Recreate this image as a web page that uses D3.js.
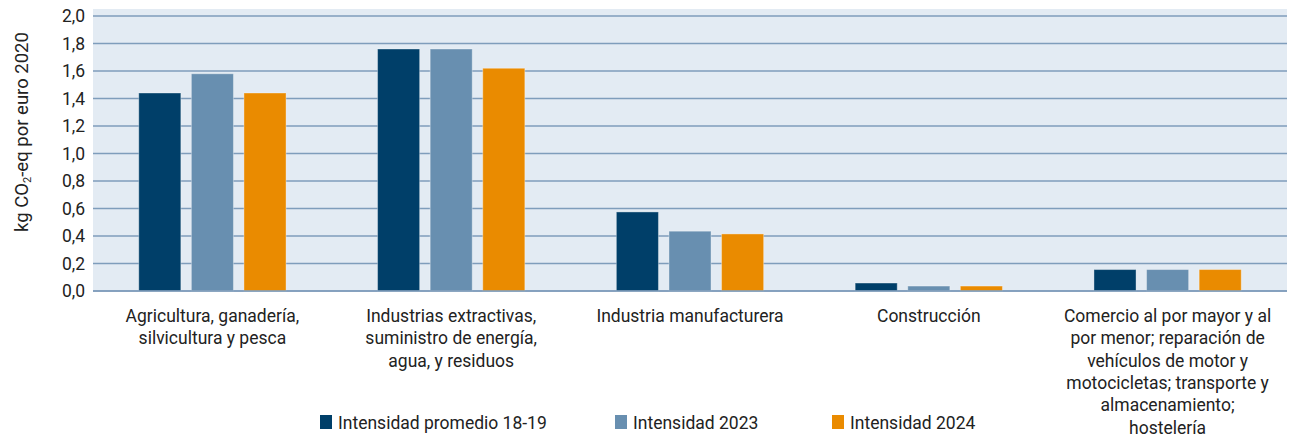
<!DOCTYPE html>
<html>
<head>
<meta charset="utf-8">
<script src="https://cdn.jsdelivr.net/npm/d3@7"></script>
<style>
  body { margin: 0; background: #fff; }
  svg text { font-family: Roboto, "Noto Sans", sans-serif; fill: #222; }
</style>
</head>
<body>
<svg id="chart" width="1289" height="440"></svg>
<script>
// categories, each already split into its printed lines
var categories = [
  ['Agricultura, ganadería,', 'silvicultura y pesca'],
  ['Industrias extractivas,', 'suministro de energía,', 'agua, y residuos'],
  ['Industria manufacturera'],
  ['Construcción'],
  ['Comercio al por mayor y al', 'por menor; reparación de', 'vehículos de motor y', 'motocicletas; transporte y', 'almacenamiento;', 'hostelería']
];
var seriesNames = ['Intensidad promedio 18-19', 'Intensidad 2023', 'Intensidad 2024'];
var promedio1819 = [1.44, 1.76, 0.575, 0.058, 0.156];
var int2023 = [1.58, 1.76, 0.435, 0.036, 0.156];
var int2024 = [1.44, 1.62, 0.415, 0.036, 0.156];
var yTicks = [0, 0.2, 0.4, 0.6, 0.8, 1.0, 1.2, 1.4, 1.6, 1.8, 2.0];
var colors = ['#003f69', '#688fb0', '#ea8b00'];

(function(){
	var series = [promedio1819, int2023, int2024];

	var svg = d3.select('#chart'),
		mLeft = 93, mRight = 1287, mTop = 16, mBottom = 291;

	var x = d3.scaleBand().domain(d3.range(categories.length)).range([mLeft, mRight]);
	var xs = d3.scaleBand().domain(d3.range(series.length)).range([0, x.bandwidth()]).paddingInner(0.2).paddingOuter(0.87);
	var y = d3.scaleLinear().domain([0, 2]).range([mBottom, mTop]);

	// plot background
	svg.append('rect')
		.attr('x', mLeft).attr('y', 9)
		.attr('width', mRight - mLeft).attr('height', mBottom - 9)
		.attr('fill', '#e3ebf3');

	// grid
	svg.append('g').selectAll('line').data(yTicks).enter().append('line')
		.attr('x1', mLeft).attr('x2', mRight)
		.attr('y1', function(d){ return y(d); }).attr('y2', function(d){ return y(d); })
		.attr('stroke', '#7f9dbb').attr('stroke-width', 1.6);

	// y axis labels
	var fmt = function(d){ return d3.format('.1f')(d).replace('.', ','); };
	var yAxis = d3.axisLeft(y).tickValues(yTicks).tickFormat(fmt).tickSize(0).tickPadding(8);
	var ya = svg.append('g').attr('transform', 'translate(' + mLeft + ',0)').call(yAxis);
	ya.select('.domain').remove();
	ya.selectAll('text').attr('font-size', 17.5).style('font-family', 'Roboto, sans-serif').attr('fill', '#222');

	// bars
	var groups = svg.append('g').selectAll('g').data(series).enter().append('g')
		.attr('fill', function(d, i){ return colors[i]; })
		.attr('transform', function(d, i){ return 'translate(' + xs(i) + ',0)'; });
	groups.selectAll('rect').data(function(d){ return d; }).enter().append('rect')
		.attr('x', function(d, i){ return x(i); })
		.attr('y', function(d){ return y(d); })
		.attr('width', xs.bandwidth())
		.attr('height', function(d){ return mBottom - y(d); })
		.attr('stroke', '#fff').attr('stroke-opacity', 0.35).attr('stroke-width', 1);

	// baseline on top of bars
	svg.append('line')
		.attr('x1', mLeft).attr('x2', mRight).attr('y1', y(0)).attr('y2', y(0))
		.attr('stroke', '#7f9dbb').attr('stroke-width', 1.6);

	// category labels
	var cat = svg.append('g').selectAll('text').data(categories).enter().append('text')
		.attr('text-anchor', 'middle')
		.attr('font-size', 17.5)
		.attr('x', function(d, i){ return x(i) + x.bandwidth() / 2; })
		.attr('y', 322);
	cat.selectAll('tspan').data(function(d){ return d; }).enter().append('tspan')
		.attr('x', function(){ return this.parentNode.getAttribute('x'); })
		.attr('dy', function(d, i){ return i ? 22.3 : 0; })
		.text(function(d){ return d; });

	// y title
	svg.append('text')
		.attr('transform', 'translate(28,132) rotate(-90)')
		.attr('text-anchor', 'middle')
		.attr('font-size', 18.5)
		.html('kg CO<tspan font-size="11" dy="3">2</tspan><tspan dy="-3">-eq por euro 2020</tspan>');

	// legend
	var legendX = [320, 615, 832];
	var leg = svg.append('g').selectAll('g').data(seriesNames).enter().append('g')
		.attr('transform', function(d, i){ return 'translate(' + legendX[i] + ',415)'; });
	leg.append('rect').attr('width', 12).attr('height', 14)
		.attr('fill', function(d, i){ return colors[i]; });
	leg.append('text').attr('x', 18).attr('y', 13.5).attr('font-size', 17.5)
		.text(function(d){ return d; });
})();
</script>
</body>
</html>
